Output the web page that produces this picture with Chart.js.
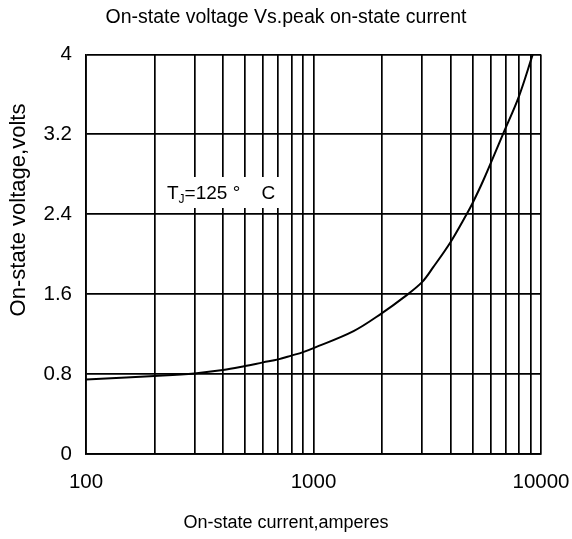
<!DOCTYPE html>
<html>
<head>
<meta charset="utf-8">
<script src="https://cdn.jsdelivr.net/npm/chart.js@4/dist/chart.umd.min.js"></script>
<style>
  html, body { margin: 0; padding: 0; background: #fff; }
  canvas { display: block; }
</style>
</head>
<body>
<canvas id="vt" width="572" height="539"></canvas>
<script>
// curve
const current = [100, 150, 200, 300, 400, 500, 600, 700, 800, 900, 1000, 1500, 2000, 2500, 3000, 3360, 4000, 4710, 5000, 5580, 6800, 8000, 9200];
const voltage = [0.745, 0.765, 0.78, 0.807, 0.84, 0.88, 0.917, 0.947, 0.985, 1.02, 1.06, 1.23, 1.41, 1.57, 1.72, 1.87, 2.12, 2.40, 2.51, 2.74, 3.20, 3.58, 4.00];

const xTicks = [100, 200, 300, 400, 500, 600, 700, 800, 900, 1000, 2000, 3000, 4000, 5000, 6000, 7000, 8000, 9000, 10000];
const xLabels = [100, 1000, 10000];
const yTicks = [0, 0.8, 1.6, 2.4, 3.2, 4];

const font = "Arial, 'Liberation Sans', sans-serif";

// axis titles and the TJ note are drawn by hand (they sit off the plot centre)
const notes = {
  id: "notes",
  afterDraw(chart) {
    const ctx = chart.ctx;
    ctx.save();
    ctx.fillStyle = "#fff";
    ctx.fillRect(161, 177, 129, 31);
    ctx.fillStyle = "#000";
    ctx.textBaseline = "alphabetic";
    ctx.textAlign = "left";
    ctx.font = "19px " + font;
    let x = 167;
    ctx.fillText("T", x, 199);
    x += ctx.measureText("T").width;
    ctx.font = "12px " + font;
    ctx.fillText("J", x, 203);
    x += ctx.measureText("J").width;
    ctx.font = "19px " + font;
    ctx.fillText("=125 \u00b0    C", x, 199);

    ctx.textAlign = "center";
    ctx.textBaseline = "middle";
    ctx.font = "18px " + font;
    ctx.fillText("On-state current,amperes", 286, 523);

    ctx.translate(19, 210);
    ctx.rotate(-Math.PI / 2);
    ctx.font = "22px " + font;
    ctx.fillText("On-state voltage,volts", 0, 0);
    ctx.restore();
  }
};

new Chart(document.getElementById("vt").getContext("2d"), {
  type: "line",
  data: {
    datasets: [{
      data: current.map((c, i) => ({ x: c, y: voltage[i] })),
      borderColor: "#000",
      borderWidth: 2,
      pointRadius: 0,
      tension: 0.35,
      fill: false,
    }],
  },
  options: {
    responsive: false,
    animation: false,
    layout: { padding: 0 },
    plugins: {
      legend: { display: false },
      tooltip: { enabled: false },
      title: {
        display: true,
        text: "On-state voltage Vs.peak on-state current",
        color: "#000",
        font: { family: font, size: 19.5, weight: "normal", lineHeight: 1.2 },
        padding: { top: 6, bottom: 25 },
      },
    },
    scales: {
      x: {
        type: "logarithmic",
        min: 100,
        max: 10000,
        afterBuildTicks: (s) => { s.ticks = xTicks.map((v) => ({ value: v })); },
        afterFit: (s) => { s.height = 85; s.paddingRight = 31; s.paddingLeft = 0; },
        ticks: {
          autoSkip: false,
          maxRotation: 0,
          padding: 16,
          color: "#000",
          font: { family: font, size: 20.5 },
          callback: (v) => (xLabels.includes(v) ? String(v) : ""),
        },
        grid: { color: "#000", lineWidth: 1.7, drawTicks: false },
        border: { color: "#000", width: 1.7 },
      },
      y: {
        min: 0,
        max: 4,
        afterBuildTicks: (s) => { s.ticks = yTicks.map((v) => ({ value: v })); },
        afterFit: (s) => { s.width = 86; },
        ticks: {
          padding: 14,
          color: "#000",
          font: { family: font, size: 20.5 },
          callback: (v) => String(v),
        },
        grid: { color: "#000", lineWidth: 1.7, drawTicks: false },
        border: { color: "#000", width: 1.7 },
      },
    },
  },
  plugins: [notes],
});
</script>
</body>
</html>
